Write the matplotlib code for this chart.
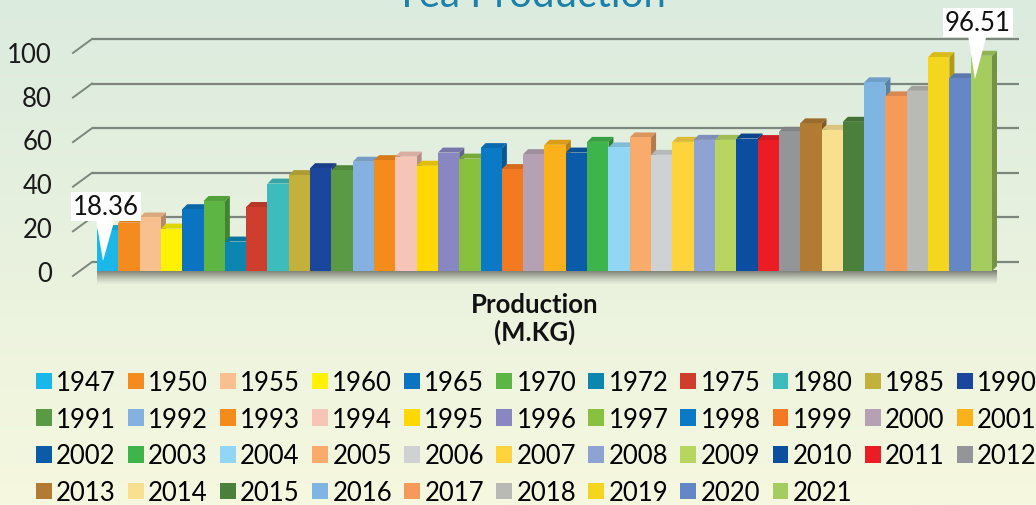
import numpy as np
import matplotlib
matplotlib.use('Agg')
import matplotlib.pyplot as plt
from matplotlib.patches import Polygon, Patch
from matplotlib.colors import to_rgb

# ---------------- data ----------------
years = [1947, 1950, 1955, 1960, 1965, 1970, 1972, 1975, 1980, 1985, 1990,
         1991, 1992, 1993, 1994, 1995, 1996, 1997, 1998, 1999, 2000, 2001,
         2002, 2003, 2004, 2005, 2006, 2007, 2008, 2009, 2010, 2011, 2012,
         2013, 2014, 2015, 2016, 2017, 2018, 2019, 2020, 2021]
production = [18.36, 21.7, 24.0, 19.0, 27.7, 31.4, 13.2, 28.7, 39.2, 43.0, 46.1,
              45.2, 49.0, 49.7, 51.3, 47.2, 53.1, 50.4, 55.1, 45.7, 52.4, 56.6,
              53.1, 57.9, 55.4, 59.9, 52.1, 57.9, 58.8, 58.8, 59.4, 58.7, 62.4,
              66.2, 63.3, 66.9, 84.6, 78.3, 80.8, 95.9, 86.4, 96.51]
colors = ['#1ab7ea', '#f58b1f', '#f9c08f', '#fff200', '#0a74c0', '#5db644',
          '#0b86b0', '#cf3d2c', '#3cbcbd', '#c2b13a', '#1c459c',
          '#5b9a44', '#84b1df', '#f48c1c', '#f7c5b8', '#ffd800', '#8887c2',
          '#88c13e', '#0a7ac7', '#f37a21', '#b5a0b4', '#fbb11a',
          '#0a5ca8', '#3db54a', '#91d6f5', '#f9ab6b', '#cfd1d2', '#fdd43c',
          '#8ea2d3', '#b8d65f', '#0b4d9f', '#ec1c24', '#939598',
          '#b27b33', '#f9e08f', '#4b7f3c', '#7fb5e3', '#f69a5a', '#b9b9b6',
          '#f5d61e', '#6488c6', '#a4cc5e']
y_ticks = [0, 20, 40, 60, 80, 100]
title_text = "Tea Production"
axis_title = "Production\n(M.KG)"
callout_years = [1947, 2021]

plt.rcParams['font.family'] = ['Lato', 'DejaVu Sans']
FS = 18.5

W, H = 1036, 506
fig = plt.figure(figsize=(W / 100, H / 100), dpi=100)

# ---------------- background gradient ----------------
bg = fig.add_axes([0, 0, 1, 1], zorder=-10)
c_top = np.array(to_rgb('#dbebdf'))
c_bot = np.array(to_rgb('#f6f8de'))
t = np.linspace(0, 1, 256)[:, None]
grad = c_top * (1 - t) + c_bot * t
bg.imshow(grad[:, None, :], aspect='auto', extent=[0, 1, 0, 1])
bg.set_xlim(0, 1); bg.set_ylim(0, 1)
bg.axis('off')

# ---------------- plot axes ----------------
n = len(years)
left_px, right_px, base_px, top_px = 97, 992, 272, 49
ax = fig.add_axes([left_px / W, 1 - base_px / H,
                   (right_px - left_px) / W, (base_px - top_px) / H])
ax.set_xlim(-0.5, n - 0.5)
ax.set_ylim(0, 100)
ax.axis('off')

px_x = (right_px - left_px) / n          # pixels per category
px_y = (base_px - top_px) / 100.0        # pixels per unit
dx = 5 / px_x                            # 3D depth offset
dy = 5 / px_y
back_off = 9 / px_y

# back wall grid lines + diagonal ticks
gx0 = -0.5 - 5 / px_x
gx1 = -0.5 + (1019 - left_px) / px_x
fx0 = -0.5 - 24 / px_x
for v in y_ticks:
    ax.plot([gx0, gx1], [v + back_off, v + back_off], color='#7b877c',
            lw=1.6, clip_on=False, zorder=1, solid_capstyle='butt')
    ax.plot([fx0, gx0], [v - 2.2, v + back_off], color='#7b877c',
            lw=1.4, clip_on=False, zorder=1)
    ax.text(-0.5 - 45 / px_x, v * 0.981 - 1.0, str(v), ha='right', va='center',
            fontsize=FS, color='#1a1a1a')

# floor shadow
fl = np.zeros((64, 2, 4))
fl[..., :3] = to_rgb('#6d7166')
fl[..., 3] = np.linspace(0.95, 0.0, 64)[:, None] ** 1.3
ax.imshow(fl, aspect='auto', extent=[-0.5, n - 0.5 + dx, -6.5, 0],
          clip_on=False, zorder=1.5, interpolation='bilinear')
ax.set_xlim(-0.5, n - 0.5)
ax.set_ylim(0, 100)

# bars with 3D faces
x = np.arange(n)
bars = ax.bar(x, production, width=1.0, color=colors, linewidth=0)
for i, r in enumerate(bars):
    z = 3 + i * 0.01
    r.set_zorder(z + 0.005)
    x0 = r.get_x(); x1 = x0 + r.get_width(); h = r.get_height()
    base = np.array(to_rgb(colors[i]))
    side_c = base * 0.72
    top_c = base * 0.88
    ax.add_patch(Polygon([(x1, 0), (x1 + dx, dy), (x1 + dx, h + dy), (x1, h)],
                         closed=True, fc=side_c, ec='none', zorder=z, clip_on=False))
    ax.add_patch(Polygon([(x0, h), (x1, h), (x1 + dx, h + dy), (x0 + dx, h + dy)],
                         closed=True, fc=top_c, ec='none', zorder=z, clip_on=False))

# callouts
i0 = years.index(callout_years[0])
i1 = years.index(callout_years[1])
for idx, tip in [(i0, (x[i0] - 0.22, 4.5, -0.08, 29.0)),
                 (i1, (x[i1] - 0.3, 86.0, -0.16, 111.6))]:
    ax.annotate(f"{production[idx]:.2f}", xy=(tip[0], tip[1]),
                xytext=(x[idx] + tip[2], tip[3]), ha='center', va='center',
                fontsize=FS, color='#111111', zorder=10, annotation_clip=False,
                bbox=dict(boxstyle='square,pad=0.08', fc='white', ec='none'),
                arrowprops=dict(arrowstyle='wedge,tail_width=0.7,shrink_factor=0.5',
                                fc='white', ec='none', shrinkA=0, shrinkB=0))

# axis title
fig.text(535 / W, 1 - 319 / H, axis_title, ha='center', va='center',
         fontsize=FS, fontweight='bold', linespacing=1.08, color='#111111')

# chart title (partly cut off at top, as in the reference)
fig.text(530 / W, 1 - 6.7 / H, title_text, ha='center', va='baseline',
         fontsize=29, color='#1b80aa')

# legend (row-major order, 11 columns)
ncol = 11
handles = [Patch(facecolor=c, edgecolor='none') for c in colors]
order = []
for c in range(ncol):
    for r in range(4):
        k = r * ncol + c
        if k < n:
            order.append(k)
fig.legend([handles[k] for k in order], [str(years[k]) for k in order],
           ncol=ncol, loc='upper left', bbox_to_anchor=(36 / W, 1 - 371 / H),
           frameon=False, fontsize=FS, handlelength=0.62, handleheight=0.62,
           handletextpad=0.16, columnspacing=0.47, labelspacing=0.455,
           borderpad=0, borderaxespad=0)

fig.savefig('out.png', dpi=100)
